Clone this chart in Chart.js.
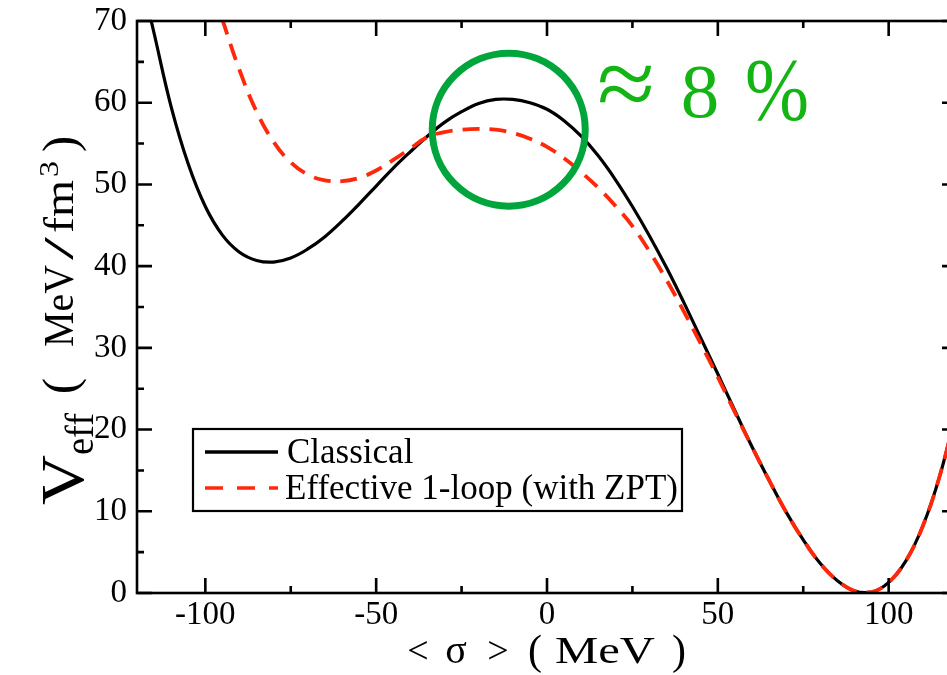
<!DOCTYPE html>
<html><head><meta charset="utf-8">
<script src="https://cdn.jsdelivr.net/npm/chart.js@4.4.1/dist/chart.umd.min.js"></script>
<style>
html,body{margin:0;padding:0;background:#fff;overflow:hidden;}
#wrap{width:960px;height:675px;}
canvas{display:block;}
</style></head><body>
<div id="wrap"><canvas id="c" width="960" height="675"></canvas></div>
<script>
// ---- data ----
const sigma = [-120,-115,-110,-105,-100,-95,-90,-85,-80,-75,-70,-65,-60,-55,-50,-45,-40,-35,-30,-25,-20,-15,-10,-5,0,5,10,15,20,25,30,35,40,45,50,55,60,65,70,75,80,85,90,95,100,105,110,115,120];
const classical = [77.5,68.5,59.5,52.5,47.3,43.8,41.7,40.7,40.5,41.0,42.1,43.6,45.5,47.6,49.8,52.0,54.0,55.9,57.6,58.9,59.9,60.4,60.4,60.0,59.2,57.8,55.9,53.5,50.6,47.3,43.7,39.8,35.6,31.2,26.8,22.3,17.9,13.8,9.9,6.5,3.6,1.5,0.25,0.1,1.3,3.9,8.2,14.4,22.6];
const effective = [112,102,93,84.5,77,70.2,64.0,58.9,55.2,52.7,51.2,50.5,50.4,50.8,51.7,53.0,54.4,55.8,56.4,56.7,56.8,56.7,56.3,55.6,54.6,53.2,51.5,49.6,47.4,44.9,41.8,38.3,34.5,30.5,26.4,22.1,17.9,13.8,9.9,6.5,3.6,1.5,0.25,0.1,1.3,3.9,8.2,14.4,22.6];
const seriesLabels = ['Classical', 'Effective 1-loop (with ZPT)'];
const xTicks = [-100, -50, 0, 50, 100];
const xMinorTicks = [-75, -25, 25, 75];
const yTicks = [0, 10, 20, 30, 40, 50, 60, 70];
const yMinorTicks = [5, 15, 25, 35, 45, 55, 65];
const xRange = [-120, 120];
const yRange = [0, 70];
const circleCenter = [-11.2, 56.7];
const noteParts = ['≈', '8', '%'];
const notePos = [23.1, 44.8, 67.3];
const noteY = 58.3;

const SERIF = '"Liberation Serif", "Times New Roman", serif';
const BLACK = '#000000';
const RED = 'rgb(255,40,10)';
const GREEN_TXT = '#14b414';
const GREEN_CIRC = '#00a53c';

function textRun(ctx, t, size, cx, base, targetW) {
  ctx.font = size + 'px ' + SERIF;
  const w = ctx.measureText(t).width;
  const sx = targetW ? targetW / w : 1;
  ctx.save();
  ctx.translate(cx, base);
  ctx.scale(sx, 1);
  ctx.textAlign = 'center';
  ctx.textBaseline = 'alphabetic';
  ctx.fillText(t, 0, 0);
  ctx.restore();
}
function vRun(ctx, t, size, fromY, toY, baseX) {
  ctx.font = size + 'px ' + SERIF;
  const w = ctx.measureText(t).width;
  const sx = (fromY - toY) / w;
  ctx.save();
  ctx.translate(baseX, fromY);
  ctx.rotate(-Math.PI / 2);
  ctx.scale(sx, 1);
  ctx.textAlign = 'left';
  ctx.textBaseline = 'alphabetic';
  ctx.fillText(t, 0, 0);
  ctx.restore();
}

const deco = {
  id: 'deco',
  afterDraw(chart) {
    const ctx = chart.ctx, a = chart.chartArea;
    const xs = chart.scales.x, ys = chart.scales.y;
    ctx.save();
    // ticks (inward, all four sides)
    ctx.strokeStyle = BLACK; ctx.lineWidth = 2.6; ctx.lineCap = 'butt';
    ctx.beginPath();
    const tX = (vals, len) => vals.forEach(v => { const p = xs.getPixelForValue(v);
      ctx.moveTo(p, a.bottom); ctx.lineTo(p, a.bottom - len);
      ctx.moveTo(p, a.top); ctx.lineTo(p, a.top + len); });
    const tY = (vals, len) => vals.forEach(v => { const p = ys.getPixelForValue(v);
      ctx.moveTo(a.left, p); ctx.lineTo(a.left + len, p);
      ctx.moveTo(a.right, p); ctx.lineTo(a.right - len, p); });
    tX(xTicks, 15); tX(xMinorTicks, 7); tY(yTicks, 15); tY(yMinorTicks, 7);
    ctx.stroke();
    ctx.strokeRect(a.left, a.top, a.right - a.left, a.bottom - a.top);

    // green circle + note
    ctx.beginPath();
    ctx.arc(xs.getPixelForValue(circleCenter[0]), ys.getPixelForValue(circleCenter[1]), 76.5, 0, Math.PI * 2);
    ctx.lineWidth = 7; ctx.strokeStyle = GREEN_CIRC; ctx.stroke();
    ctx.fillStyle = GREEN_TXT;
    const nb = ys.getPixelForValue(noteY);
    textRun(ctx, noteParts[0], 100, xs.getPixelForValue(notePos[0]), nb, 58);
    textRun(ctx, noteParts[1], 77, xs.getPixelForValue(notePos[1]), nb, null);
    textRun(ctx, noteParts[2], 88, xs.getPixelForValue(notePos[2]), nb + 2, 64);

    // legend
    const lx = a.left + 56, ly = 429, lw = 489, lh = 82;
    ctx.fillStyle = '#fff'; ctx.fillRect(lx, ly, lw, lh);
    ctx.lineWidth = 2.2; ctx.strokeStyle = BLACK; ctx.strokeRect(lx, ly, lw, lh);
    const ds = chart.data.datasets;
    ctx.lineWidth = 3.4; ctx.strokeStyle = ds[0].borderColor; ctx.setLineDash([]);
    ctx.beginPath(); ctx.moveTo(lx + 12, 452); ctx.lineTo(lx + 85, 452); ctx.stroke();
    ctx.strokeStyle = ds[1].borderColor; ctx.setLineDash([18, 14]);
    ctx.beginPath(); ctx.moveTo(lx + 12, 488); ctx.lineTo(lx + 85, 488); ctx.stroke();
    ctx.setLineDash([]);
    ctx.fillStyle = BLACK; ctx.font = '35px ' + SERIF; ctx.textAlign = 'left'; ctx.textBaseline = 'alphabetic';
    ctx.fillText(seriesLabels[0], lx + 94, 463);
    ctx.fillText(seriesLabels[1], lx + 92, 499);

    // x title: "< σ >  ( MeV )"
    const c0 = xs.getPixelForValue(0);
    ctx.fillStyle = BLACK;
    textRun(ctx, '<', 38, c0 - 129, 663, null);
    textRun(ctx, 'σ', 40, c0 - 91, 663, null);
    textRun(ctx, '>', 38, c0 - 49, 663, null);
    textRun(ctx, '(', 42, c0 - 12, 664, null);
    textRun(ctx, 'MeV', 38, c0 + 58, 663, 100);
    textRun(ctx, ')', 42, c0 + 132, 664, null);

    // y title: V_eff ( MeV / fm^3 )
    vRun(ctx, 'V', 62, 505, 455, 83);
    vRun(ctx, 'eff', 40, 455, 413, 93);
    vRun(ctx, '(', 48, 394, 378, 76);
    vRun(ctx, 'MeV', 42, 347, 265, 73);
    vRun(ctx, '/', 42, 260, 237, 73);
    vRun(ctx, 'fm', 42, 233, 180, 73);
    vRun(ctx, '3', 28, 177, 161, 58);
    vRun(ctx, ')', 48, 152, 136, 76);
    ctx.restore();
  }
};

new Chart(document.getElementById('c'), {
  type: 'line',
  data: {
    datasets: [
      { label: seriesLabels[0], data: sigma.map((s, i) => ({ x: s, y: classical[i] })),
        borderColor: BLACK, borderWidth: 3.2, pointRadius: 0, tension: 0.4, fill: false, clip: 0, order: 1 },
      { label: seriesLabels[1], data: sigma.map((s, i) => ({ x: s, y: effective[i] })),
        borderColor: RED, borderWidth: 3.8, borderDash: [17, 10], pointRadius: 0, tension: 0.4, fill: false, clip: 0, order: 0 }
    ]
  },
  options: {
    responsive: false, animation: false,
    layout: { padding: { top: 21, right: 3, left: 0, bottom: 0 } },
    plugins: { legend: { display: false }, tooltip: { enabled: false } },
    scales: {
      x: {
        type: 'linear', min: xRange[0], max: xRange[1],
        grid: { display: false, drawTicks: false }, border: { display: false },
        afterBuildTicks: s => { s.ticks = xTicks.map(v => ({ value: v })); },
        afterFit: s => { s.height = 82; s.paddingLeft = 0; s.paddingRight = 0; },
        ticks: { color: BLACK, padding: 6, maxRotation: 0, autoSkip: false, font: { family: SERIF, size: 33, lineHeight: 1 }, callback: v => String(v) }
      },
      y: {
        type: 'linear', min: yRange[0], max: yRange[1],
        grid: { display: false, drawTicks: false }, border: { display: false },
        afterBuildTicks: s => { s.ticks = yTicks.map(v => ({ value: v })); },
        afterFit: s => { s.width = 137; s.paddingTop = 0; s.paddingBottom = 0; },
        ticks: { color: BLACK, padding: 10, autoSkip: false, font: { family: SERIF, size: 33, lineHeight: 1 }, callback: v => String(v) }
      }
    }
  },
  plugins: [deco]
});
</script>
</body></html>
